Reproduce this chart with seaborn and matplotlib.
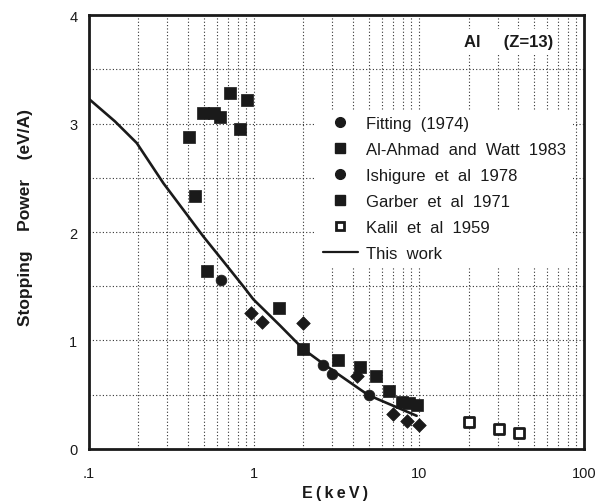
import numpy as np
import pandas as pd
import matplotlib
matplotlib.use("Agg")
import matplotlib.pyplot as plt
import seaborn as sns
from matplotlib.lines import Line2D
from matplotlib.ticker import FixedLocator, FixedFormatter, NullFormatter

sns.set_theme(style="white")
plt.rcParams['font.family'] = ['Liberation Sans', 'DejaVu Sans']

# Data (E in keV, stopping power in eV/A)
fit_E = [0.97, 1.12, 2.0, 4.2, 7.0, 8.43, 10.0]
fit_S = [1.25, 1.17, 1.16, 0.67, 0.32, 0.26, 0.22]

ahmad_E = [0.407, 0.44, 0.491, 0.577, 0.624, 0.717, 0.827, 0.912]
ahmad_S = [2.88, 2.33, 3.10, 3.10, 3.06, 3.28, 2.95, 3.22]

ishi_E = [0.631, 2.0, 2.64, 3.0, 4.99]
ishi_S = [1.56, 0.92, 0.77, 0.69, 0.50]

garber_E = [0.52, 1.43, 2.0, 3.25, 4.4, 5.48, 6.6, 7.87, 8.75, 9.8]
garber_S = [1.64, 1.30, 0.92, 0.82, 0.76, 0.67, 0.53, 0.435, 0.42, 0.405]

kalil_E = [20.2, 30.5, 40.5]
kalil_S = [0.245, 0.18, 0.15]

work_E = [0.1, 0.1445, 0.196, 0.284, 0.495, 0.655, 0.865, 0.995, 1.44, 2.0, 2.64, 4.94, 9.7]
work_S = [3.23, 3.02, 2.82, 2.45, 1.96, 1.73, 1.50, 1.38, 1.14, 0.92, 0.785, 0.497, 0.306]

labels = ['Fitting  (1974)', 'Al-Ahmad  and  Watt  1983', 'Ishigure  et  al  1978',
          'Garber  et  al  1971', 'Kalil  et  al  1959', 'This  work']

xtick_vals = [0.1, 1, 10, 100]
xtick_labels = [".1", "1", "10", "100"]
ytick_vals = [0, 1, 2, 3, 4]

INK = '#1a1a1a'
fig = plt.figure(figsize=(6.0, 5.02), dpi=100)
ax = fig.add_axes([0.1475, 0.1036, 0.8258, 0.8645])

sns.scatterplot(x=fit_E, y=fit_S, marker='D', s=48, color=INK, edgecolor=INK,
                linewidth=0.5, ax=ax, zorder=5, legend=False)
sns.scatterplot(x=ahmad_E, y=ahmad_S, marker='s', s=65, color=INK, edgecolor=INK,
                linewidth=0.5, ax=ax, zorder=5, legend=False)
sns.scatterplot(x=ishi_E, y=ishi_S, marker='o', s=60, color=INK, edgecolor=INK,
                linewidth=0.5, ax=ax, zorder=5, legend=False)
sns.scatterplot(x=garber_E, y=garber_S, marker='s', s=65, color=INK, edgecolor=INK,
                linewidth=0.5, ax=ax, zorder=5, legend=False)
sns.scatterplot(x=kalil_E, y=kalil_S, marker='s', s=42, color='white', edgecolor=INK,
                linewidth=2.0, ax=ax, zorder=5, legend=False)
sns.lineplot(x=work_E, y=work_S, color=INK, linewidth=1.9, ax=ax, sort=False,
             zorder=4, legend=False)

ax.set_xscale('log')
ax.set_xlim(0.1, 100)
ax.set_ylim(0, 4)

ax.xaxis.set_major_locator(FixedLocator(xtick_vals))
ax.xaxis.set_major_formatter(FixedFormatter(xtick_labels))
minor_x = [m * d for d in [0.1, 1, 10] for m in range(2, 10)]
ax.xaxis.set_minor_locator(FixedLocator(minor_x))
ax.xaxis.set_minor_formatter(NullFormatter())
ax.yaxis.set_major_locator(FixedLocator(ytick_vals))
ax.yaxis.set_minor_locator(FixedLocator([0.5, 1.5, 2.5, 3.5]))

ax.grid(True, which='both', linestyle=(0, (1, 2)), color='#333333', linewidth=0.8)

for s in ax.spines.values():
    s.set_visible(True)
    s.set_color(INK)
    s.set_linewidth(2.0)

ax.tick_params(axis='x', which='major', direction='in', length=6, width=1.5,
               labelsize=10.5, pad=12, colors=INK, top=False)
ax.tick_params(axis='x', which='minor', direction='in', length=5, width=1.5, colors=INK)
ax.tick_params(axis='y', which='major', direction='out', length=5, width=1.5,
               labelsize=10.5, pad=3, colors=INK)
ax.tick_params(axis='y', which='minor', direction='out', length=3, width=1.5, colors=INK)

def spaced(txt):
    return '\u2009'.join(list(txt))

ax.set_xlabel(spaced('E(keV)'), fontsize=11.5, fontweight='bold', color=INK)
ax.xaxis.set_label_coords(0.4975, -0.082)
ax.set_ylabel('Stopping    Power    (eV/A)', fontsize=12.5, fontweight='bold', color=INK)
ax.yaxis.set_label_coords(-0.112, 0.535)

ax.text(0.848, 0.94, 'Al     (Z=13)', transform=ax.transAxes, ha='center', va='center',
        fontsize=12, fontweight='bold', color=INK,
        bbox=dict(facecolor='white', edgecolor='none', pad=3), zorder=6)

handles = [
    Line2D([], [], linestyle='none', marker='o', markersize=7, color=INK),
    Line2D([], [], linestyle='none', marker='s', markersize=7.5, color=INK),
    Line2D([], [], linestyle='none', marker='o', markersize=7, color=INK),
    Line2D([], [], linestyle='none', marker='s', markersize=7.5, color=INK),
    Line2D([], [], linestyle='none', marker='s', markersize=6, markerfacecolor='white',
           markeredgecolor=INK, markeredgewidth=2.0),
    Line2D([], [], color=INK, linewidth=1.6),
]
leg = ax.legend(handles, labels, loc='upper left', bbox_to_anchor=(0.459, 0.782),
                borderaxespad=0, frameon=True, fontsize=12, handlelength=2.1,
                handletextpad=0.52, labelspacing=0.66, borderpad=0.4)
leg.get_frame().set_facecolor('white')
leg.get_frame().set_edgecolor('none')
leg.get_frame().set_alpha(1.0)
leg.set_zorder(6)
for t in leg.get_texts():
    t.set_color(INK)

fig.savefig('out.png', dpi=100, facecolor='white')
